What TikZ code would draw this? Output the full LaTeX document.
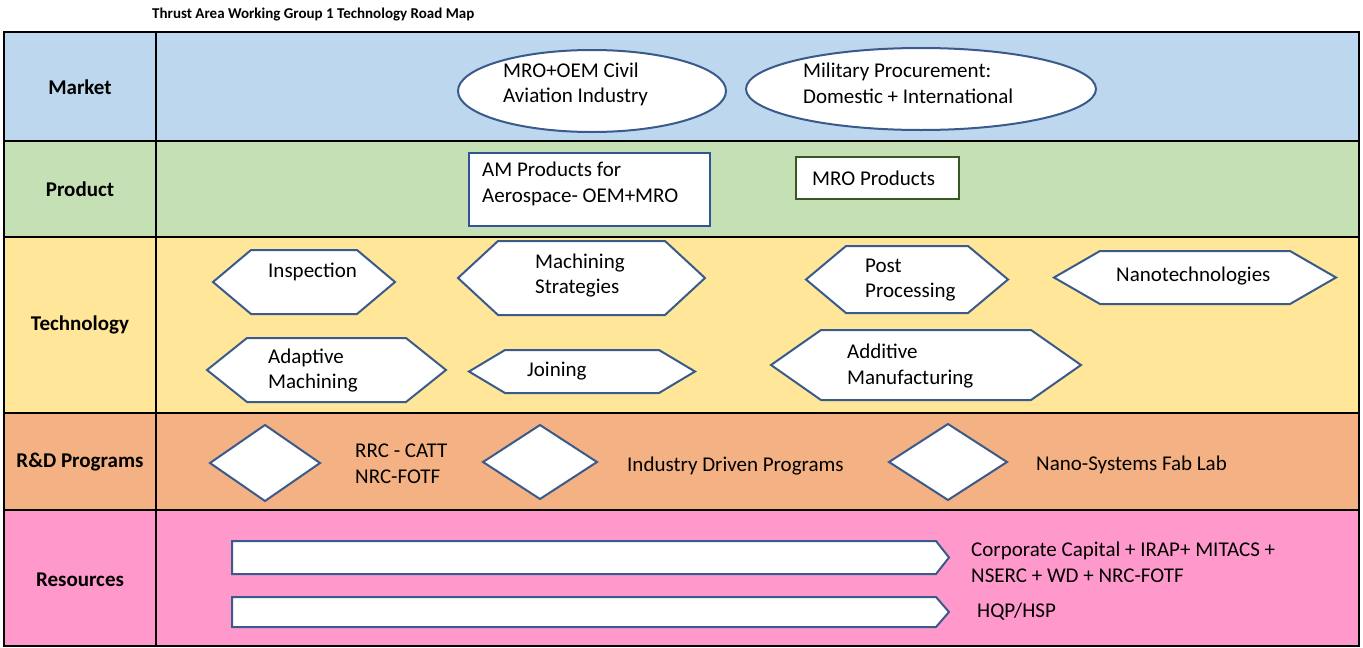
\documentclass[tikz,border=0pt]{standalone}
\usepackage{fontspec}
\setmainfont{Carlito}
\definecolor{mkt}{HTML}{BDD7EE}
\definecolor{prd}{HTML}{C5E0B4}
\definecolor{tec}{HTML}{FFE699}
\definecolor{rnd}{HTML}{F4B183}
\definecolor{res}{HTML}{FF99CC}
\definecolor{shpblue}{HTML}{3A5A8C}
\definecolor{boxblue}{HTML}{2F5597}
\definecolor{boxgreen}{HTML}{385723}
\newcommand{\hexpath}[5]{%
  \draw[shp] ({#1},{(#3+#4)/2}) -- ({#1+#5},#3) -- ({#2-#5},#3) -- ({#2},{(#3+#4)/2})
    -- ({#2-#5},#4) -- ({#1+#5},#4) -- cycle;}
\newcommand{\diampath}[4]{%
  \draw[shp] ({#1-#3},#2) -- (#1,{#2-#4}) -- ({#1+#3},#2) -- (#1,{#2+#4}) -- cycle;}
\begin{document}
\begin{tikzpicture}[x=1pt,y=-1pt,
  txt/.style={font=\fontsize{21}{25.6}\selectfont, inner sep=0pt, anchor=west, align=left},
  lbl/.style={font=\bfseries\fontsize{21}{25.6}\selectfont, inner sep=0pt},
  shp/.style={draw=shpblue, line width=2pt, fill=white, line join=miter},
  grid/.style={draw=black, line width=1.3pt}]
\useasboundingbox (0,0) rectangle (1363,648);
\fill[white] (0,0) rectangle (1363,648);
% row fills
\fill[mkt] (4,32) rectangle (1359,141);
\fill[prd] (4,141) rectangle (1359,237);
\fill[tec] (4,237) rectangle (1359,413);
\fill[rnd] (4,413) rectangle (1359,510);
\fill[res] (4,510) rectangle (1359,646);
% grid
\draw[grid] (4,32) rectangle (1359,646);
\draw[grid] (4,141) -- (1359,141);
\draw[grid] (4,237) -- (1359,237);
\draw[grid] (4,413) -- (1359,413);
\draw[grid] (4,510) -- (1359,510);
\draw[grid] (156,32) -- (156,646);
% title
\node[font=\bfseries\fontsize{15}{18}\selectfont, anchor=west, inner sep=0pt] (title) at (152,15) {Thrust Area Working Group 1 Technology Road Map};
% row labels
\node[lbl] (lmarket) at (80,87) {Market};
\node[lbl] (lproduct) at (80,189) {Product};
\node[lbl] (ltech) at (80,325) {Technology};
\node[lbl] (lrnd) at (80,462) {R\&D Programs};
\node[lbl] (lres) at (80,580) {Resources};
% market
\draw[shp] (592,91) ellipse [x radius=134pt, y radius=41pt];
\node[txt] (civil) at (503,84.5) {MRO+OEM Civil\\Aviation Industry};
\draw[shp] (921,89) ellipse [x radius=175pt, y radius=41pt];
\node[txt] (military) at (803,83.5) {Military Procurement:\\Domestic + International};
% product
\draw[draw=boxblue, line width=2pt, fill=white] (469,153) rectangle (710,226);
\node[txt] (amprod) at (482,184) {AM Products for\\Aerospace- OEM+MRO};
\draw[draw=boxgreen, line width=2pt, fill=white] (796,157) rectangle (959,199);
\node[txt] (mroprod) at (812,178) {MRO Products};
% technology
\hexpath{213}{395}{250}{314}{38}
\node[txt] (insp) at (268,272) {Inspection};
\hexpath{458}{705}{241}{315}{40}
\node[txt] (machs) at (535,275.5) {Machining\\Strategies};
\hexpath{806}{1008}{246}{313}{40}
\node[txt] (postp) at (865,280) {Post\\Processing};
\hexpath{1054}{1336}{251}{304}{46}
\node[txt] (nano) at (1116,276) {Nanotechnologies};
\hexpath{207}{446}{338}{402}{40}
\node[txt] (adapt) at (268,370.5) {Adaptive\\Machining};
\hexpath{469}{695}{350}{393}{36}
\node[txt] (join) at (527,371) {Joining};
\hexpath{771}{1081}{330}{400}{50}
\node[txt] (addm) at (847,366) {Additive\\Manufacturing};
% R&D
\diampath{265}{463}{55}{38}
\node[txt] (rrc) at (355,464) {RRC - CATT\\NRC-FOTF};
\diampath{540}{462}{57}{37}
\node[txt] (indp) at (627,466) {Industry Driven Programs};
\diampath{948}{462}{59}{38}
\node[txt] (nanofab) at (1036,465) {Nano-Systems Fab Lab};
% resources
\draw[shp] (232,541) -- (936,541) -- (949,557.5) -- (936,574) -- (232,574) -- cycle;
\node[txt] (corp) at (971,562.5) {Corporate Capital + IRAP+ MITACS +\\NSERC + WD + NRC-FOTF};
\draw[shp] (232,597) -- (936,597) -- (949,612) -- (936,627) -- (232,627) -- cycle;
\node[txt] (hqp) at (977,612) {HQP/HSP};
\end{tikzpicture}
\end{document}
